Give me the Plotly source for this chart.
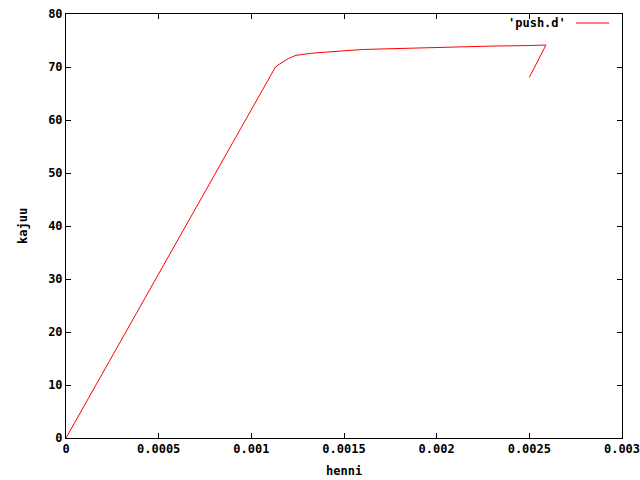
import plotly.graph_objects as go

henni = [0.0, 0.001097, 0.00113, 0.00115, 0.001164, 0.0012, 0.001241, 0.00128, 0.001326,
         0.00138, 0.001434, 0.0015, 0.0016, 0.0017, 0.0019, 0.0021, 0.0023, 0.0025, 0.00259, 0.0025]
kajuu = [0.0, 67.7, 70.0, 70.5, 70.8, 71.6, 72.2, 72.4, 72.6,
         72.75, 72.9, 73.1, 73.3, 73.4, 73.6, 73.8, 73.95, 74.05, 74.15, 68.05]

x_tickvals = [0, 0.0005, 0.001, 0.0015, 0.002, 0.0025, 0.003]
x_ticktext = ["0", "0.0005", "0.001", "0.0015", "0.002", "0.0025", "0.003"]
y_tickvals = [0, 10, 20, 30, 40, 50, 60, 70, 80]
legend_label = "'push.d'"

FONT = dict(family="DejaVu Sans Mono", size=12, color="black", weight="bold")

fig = go.Figure()
fig.add_trace(go.Scatter(x=henni, y=kajuu, mode="lines",
                         line=dict(color="#ff0000", width=1), showlegend=False))

axis_common = dict(showgrid=False, zeroline=False, showline=True, linecolor="black",
                   linewidth=1, mirror="ticks", ticks="inside", ticklen=5,
                   tickcolor="black", tickwidth=1, tickfont=FONT, automargin=False,
                   ticklabeloverflow="allow")

fig.update_xaxes(range=[0, 0.003], tickvals=x_tickvals, ticktext=x_ticktext, **axis_common)
fig.update_yaxes(range=[0, 80], tickvals=y_tickvals, **axis_common)

fig.update_layout(
    width=640, height=480,
    margin=dict(l=66, r=18, t=14, b=42),
    paper_bgcolor="white", plot_bgcolor="white",
    font=FONT,
    annotations=[
        dict(text="henni", xref="paper", yref="paper", x=0.5, y=-33/424,
             showarrow=False, font=FONT, xanchor="center", yanchor="middle"),
        dict(text="kajuu", xref="paper", yref="paper", x=-43/556, y=0.5,
             showarrow=False, font=FONT, textangle=-90, xanchor="center", yanchor="middle"),
        dict(text=legend_label, xref="paper", yref="paper", x=(568-66)/556, y=(438-23)/424,
             showarrow=False, font=FONT, xanchor="right", yanchor="middle"),
    ],
    shapes=[
        dict(type="line", xref="paper", yref="paper",
             x0=(576-66)/556, x1=(609-66)/556, y0=(438-23)/424, y1=(438-23)/424,
             line=dict(color="#ff0000", width=1)),
    ],
)

fig.write_html("out.html", config={"displayModeBar": False},
               post_script="document.body.style.margin='0';document.body.style.overflow='hidden';")
